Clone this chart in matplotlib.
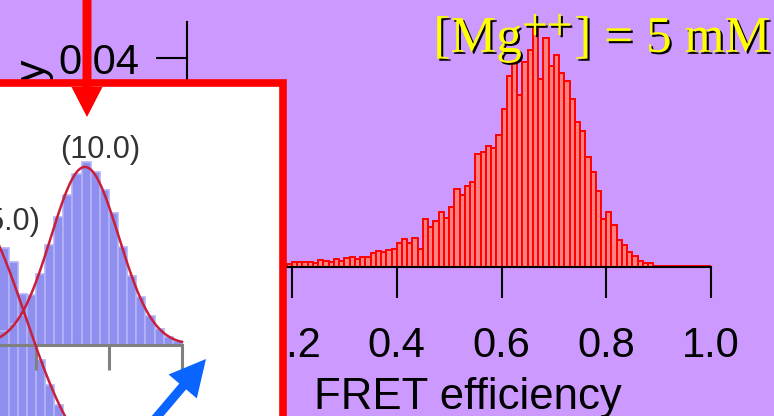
import numpy as np
import matplotlib.pyplot as plt
import matplotlib.patheffects as pe
from matplotlib.patches import Rectangle

W, H = 774, 416
PURPLE = '#cc99ff'

# main histogram: FRET efficiency at [Mg++] = 5 mM, probability per 0.01 bin
fret_start = 0.19
fret_bin = 0.01
prob_5mM = [0.0006, 0.0009, 0.0009, 0.0009, 0.0009, 0.0007, 0.0013, 0.0012, 0.0010, 0.0016,
            0.0012, 0.0018, 0.0019, 0.0016, 0.0020, 0.0019, 0.0026, 0.0030, 0.0029, 0.0032,
            0.0034, 0.0046, 0.0053, 0.0046, 0.0056, 0.0035, 0.0092, 0.0077, 0.0088, 0.0105,
            0.0094, 0.0115, 0.0149, 0.0138, 0.0155, 0.0163, 0.0216, 0.0220, 0.0232, 0.0228,
            0.0253, 0.0302, 0.0366, 0.0392, 0.0329, 0.0392, 0.0415, 0.0459, 0.0360, 0.0438,
            0.0385, 0.0406, 0.0371, 0.0356, 0.0322, 0.0278, 0.0260, 0.0211, 0.0182, 0.0145,
            0.0092, 0.0105, 0.0080, 0.0052, 0.0042, 0.0029, 0.0021, 0.0011, 0.0008, 0.0007,
            0.0002, 0.0002, 0.0002, 0.0002, 0.0002, 0.0002, 0.0002, 0.0002, 0.0002, 0.0002,
            0.0002]
x_ticks = [0.0, 0.2, 0.4, 0.6, 0.8, 1.0]
x_ticklabels = ['0.0', '0.2', '0.4', '0.6', '0.8', '1.0']
y_ticks = [0.0, 0.01, 0.02, 0.03, 0.04]
y_ticklabels = ['0.00', '0.01', '0.02', '0.03', '0.04']

# inset: upper panel (10.0) and lower panel (5.0), normalised heights
inset_start = 0.50
inset_bin = 0.025
inset_upper = [0.08, 0.12, 0.17, 0.28, 0.40, 0.56, 0.72, 0.84, 0.96, 1.03,
               0.97, 0.87, 0.74, 0.55, 0.39, 0.27, 0.16, 0.09, 0.045, 0.02]
inset_lower = [1.28, 1.20, 1.02, 0.82, 0.65, 0.51, 0.40, 0.30, 0.22, 0.16]
lower_offset = -0.736
fit_upper = dict(center=0.734, sigma=0.093, amp=1.0, base=0.0)
fit_lower = dict(center=0.419, sigma=0.151, amp=1.489, base=lower_offset)
inset_ticks = [0.6, 0.8, 1.0]

plt.rcParams['font.family'] = 'Liberation Sans'
plt.rcParams['mathtext.fontset'] = 'stix'

fig = plt.figure(figsize=(W / 100, H / 100), dpi=100)
fig.patch.set_facecolor(PURPLE)

# ---- main chart
ax = fig.add_axes([187.25 / W, (H - 267) / H, 523.75 / W, 245 / H], zorder=1)
ax.set_facecolor('none')
lefts = fret_start + fret_bin * np.arange(len(prob_5mM))
ax.bar(lefts, prob_5mM, width=fret_bin, align='edge',
       color='#ff8080', edgecolor='#ff0000', linewidth=1.4)
ax.set_xlim(0, 1.0)
ax.set_ylim(0, 0.0469)
ax.set_xticks(x_ticks, x_ticklabels)
ax.set_yticks(y_ticks, y_ticklabels)
for s in ['top', 'right']:
    ax.spines[s].set_visible(False)
for s in ['left', 'bottom']:
    ax.spines[s].set_linewidth(1.5)
ax.tick_params(axis='both', direction='out', length=22.3, width=1.5, labelsize=30)
ax.tick_params(axis='x', pad=20)
ax.tick_params(axis='y', pad=12)

fig.text(468 / W, 1 - 409 / H, 'FRET efficiency', ha='center', va='baseline',
         fontsize=31.5)
fig.text(51 / W, 1 - 55 / H, 'Probability', rotation=90, ha='right', va='top',
         fontsize=31, zorder=1.5)

# ---- white boxed inset
box_ax = fig.add_axes([0, 0, 1, 1], zorder=2)
box_ax.set_xlim(0, W)
box_ax.set_ylim(H, 0)
box_ax.axis('off')
box_ax.add_patch(Rectangle((-20, 82.5), 302.5, 400, facecolor='white',
                           edgecolor='#ff0000', linewidth=5.5))

ax_in = fig.add_axes([0, 0, 278 / W, (416 - 87) / H], zorder=3)
ax_in.set_facecolor('none')
ax_in.set_xlim(0.5014, 1.263)
ax_in.set_ylim(-0.399, 1.449)
up_c = inset_start + inset_bin * (np.arange(len(inset_upper)) + 0.5)
lo_c = inset_start + inset_bin * (np.arange(len(inset_lower)) + 0.5)
ax_in.bar(lo_c, inset_lower, width=inset_bin, bottom=lower_offset,
          color='#8f8ff0', edgecolor='#b4b4f8', linewidth=1.2)
ax_in.bar(up_c, inset_upper, width=inset_bin,
          color='#8f8ff0', edgecolor='#b4b4f8', linewidth=1.2)
for fit, lo, hi in [(fit_upper, 0.45, 1.0), (fit_lower, 0.3, 0.85)]:
    xs = np.linspace(lo, hi, 300)
    ys = fit['base'] + fit['amp'] * np.exp(-(xs - fit['center']) ** 2 / (2 * fit['sigma'] ** 2))
    ax_in.plot(xs, ys, color='#c8203c', lw=1.8, zorder=4)
for s in ['top', 'right', 'left']:
    ax_in.spines[s].set_visible(False)
ax_in.spines['bottom'].set_position(('data', 0))
ax_in.spines['bottom'].set_bounds(0.5, 1.0)
ax_in.spines['bottom'].set_color('#808080')
ax_in.spines['bottom'].set_linewidth(2.2)
ax_in.set_xticks(inset_ticks)
ax_in.set_yticks([])
ax_in.tick_params(axis='x', direction='out', length=18, width=2.2, color='#808080',
                  labelbottom=False)
ax_in.text(0.7755, 1.095, '(10.0)', ha='center', va='center', fontsize=22, color='#333333')
ax_in.text(0.611, 0.69, '(5.0)', ha='right', va='center', fontsize=22, color='#333333')

# ---- arrows
arr_ax = fig.add_axes([0, 0, 1, 1], zorder=4)
arr_ax.set_xlim(0, W)
arr_ax.set_ylim(H, 0)
arr_ax.axis('off')
arr_ax.arrow(87, -10, 0, 127, width=9, head_width=31, head_length=30,
             length_includes_head=True, facecolor='#ff0000', edgecolor='none')
arr_ax.arrow(150, 425, 56, -66, width=9, head_width=37, head_length=36,
             length_includes_head=True, facecolor='#0a64ff', edgecolor='none')

# ---- title
fig.text(602 / W, 1 - 52 / H, '[Mg$^{{+}{+}}$] = 5 mM', fontfamily='Liberation Serif',
         fontsize=37, color='#ffff00', ha='center', va='baseline', zorder=5,
         path_effects=[pe.withSimplePatchShadow(offset=(1.5, -1.5),
                                                shadow_rgbFace='black', alpha=1.0)])

fig.savefig('out.png', dpi=100, facecolor=fig.get_facecolor())
